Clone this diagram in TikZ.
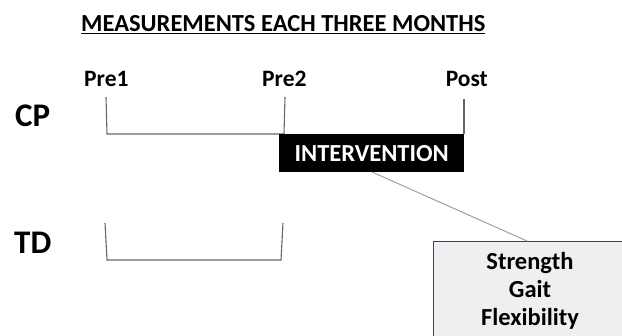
\documentclass[tikz,border=0pt]{standalone}
\usepackage{fontspec}
\setmainfont{Carlito}
\definecolor{brk}{HTML}{5F6873}
\definecolor{lnk}{HTML}{8A9AAE}
\definecolor{boxfill}{HTML}{EFEFEF}
\definecolor{boxline}{HTML}{3A4656}
\begin{document}
\begin{tikzpicture}[x=1pt,y=-1pt,
  lbl/.style={inner sep=0pt,font=\bfseries\fontsize{23.5}{23.5}\selectfont},
  grp/.style={inner sep=0pt,font=\bfseries\fontsize{33}{33}\selectfont},
  brkline/.style={draw=brk,line width=1.1pt},
  list/.style={inner sep=0pt,anchor=base,font=\bfseries\fontsize{24.5}{24.5}\selectfont}]
\useasboundingbox (0,0) rectangle (622,336);
\clip (0,0) rectangle (622,336);
% title
\node[inner sep=0pt,anchor=base west,font=\bfseries\fontsize{24.5}{24.5}\selectfont] (title) at (81,32) {\underline{MEASUREMENTS EACH THREE MONTHS}};
% timepoints
\node[lbl,anchor=base west] (pre1) at (84,87) {Pre1};
\node[lbl,anchor=base west] (pre2) at (262,87) {Pre2};
\node[lbl,anchor=base east] (post) at (488,87) {Post};
% groups
\node[grp,anchor=base west] (cp) at (15,127) {CP};
\node[grp,anchor=base west] (td) at (14,254) {TD};
% CP bracket
\coordinate (c1t) at (106,97);
\coordinate (c1b) at (107,134);
\coordinate (c2t) at (285,97);
\coordinate (c2b) at (284,134);
\coordinate (c3t) at (464,99);
\coordinate (c3b) at (464,134);
\draw[brkline] (c1t) -- (c1b) -- (c2b) -- (c2t);
\draw[brkline] (c3t) -- (c3b);
% intervention
\node[fill=black,minimum width=185pt,minimum height=38pt,anchor=north west,inner sep=0pt,
  text=white,font=\bfseries\fontsize{24.5}{24.5}\selectfont] (int) at (279,134) {INTERVENTION};
% TD bracket
\coordinate (t1t) at (105,223);
\coordinate (t1b) at (107,260);
\coordinate (t2b) at (281,260);
\coordinate (t2t) at (283,223);
\draw[brkline] (t1t) -- (t1b) -- (t2b) -- (t2t);
% outcome box
\node[draw=boxline,line width=1.1pt,fill=boxfill,anchor=north west,minimum width=200pt,minimum height=110pt,inner sep=0pt] (out) at (433,241) {};
\node[list] (s1) at (530,270) {Strength};
\node[list] (s2) at (530,298) {Gait};
\node[list] (s3) at (530,326) {Flexibility};
\coordinate (lnkend) at (527,241);
\draw[lnk,line width=0.9pt] (372,172) -- (lnkend);
\end{tikzpicture}
\end{document}
